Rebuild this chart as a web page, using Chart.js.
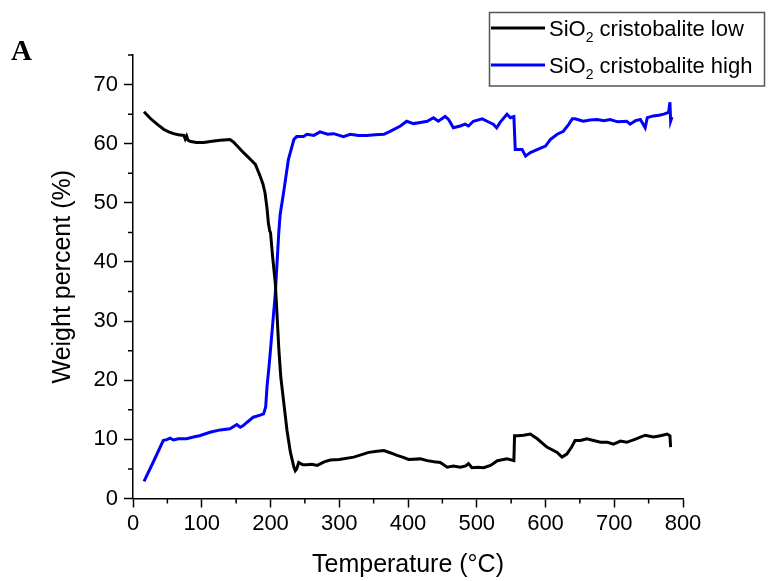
<!DOCTYPE html>
<html>
<head>
<meta charset="utf-8">
<script src="https://cdn.jsdelivr.net/npm/chart.js@4.4.1/dist/chart.umd.min.js"></script>
<style>
  html, body { margin: 0; padding: 0; background: #fff; }
  #wrap { width: 768px; height: 581px; position: relative; }
</style>
</head>
<body>
<div id="wrap"><canvas id="chart" width="768" height="581"></canvas></div>
<script>
// SiO2 cristobalite low (black)
const lowTemps = [16, 25, 35, 45, 52, 59, 66, 74, 76, 78, 80, 83, 92, 103, 115, 127, 141, 146, 151, 158,
  166, 172, 178, 185, 189, 192, 195, 197, 199, 200, 203, 207, 210, 212, 215, 219, 224, 229, 234, 236,
  238, 241, 247, 253, 260, 268, 278, 287, 300, 321, 343, 355, 365, 375, 384, 392, 401, 418, 428, 438,
  447, 457, 466, 476, 484, 488, 493, 502, 510, 520, 530, 544, 554, 555, 560, 568, 578, 588, 602, 617,
  624, 631, 638, 643, 651, 660, 670, 680, 690, 699, 709, 718, 730, 745, 757, 767, 777, 781, 782];
const lowValues = [65.4, 64.3, 63.3, 62.4, 62.0, 61.7, 61.5, 61.4, 60.8, 61.3, 60.6, 60.4, 60.2, 60.2, 60.4, 60.6, 60.7, 60.3, 59.7, 58.8,
  57.9, 57.2, 56.5, 54.5, 53.2, 51.7, 49.0, 46.5, 45.2, 45.0, 41.0, 36.4, 30.0, 25.5, 20.5, 16.5, 11.5, 7.8, 5.3, 4.7,
  5.0, 6.1, 5.7, 5.7, 5.8, 5.6, 6.2, 6.5, 6.6, 7.0, 7.8, 8.0, 8.1, 7.7, 7.3, 7.0, 6.6, 6.7, 6.4, 6.2,
  6.1, 5.3, 5.5, 5.3, 5.5, 5.9, 5.2, 5.3, 5.2, 5.6, 6.4, 6.7, 6.4, 10.6, 10.6, 10.7, 10.9, 10.1, 8.7, 7.8,
  7.0, 7.5, 8.7, 9.8, 9.8, 10.1, 9.8, 9.5, 9.5, 9.2, 9.7, 9.5, 10.0, 10.7, 10.4, 10.6, 10.9, 10.6, 8.7];

// SiO2 cristobalite high (blue)
const highTemps = [16, 30, 44, 50, 54, 59, 66, 78, 88, 98, 112, 127, 141, 151, 156, 160, 166, 175, 185, 190,
  193, 195, 198, 202, 207, 212, 214, 219, 226, 234, 238, 248, 253, 263, 272, 283, 292, 306, 316, 328,
  340, 352, 365, 374, 389, 398, 408, 418, 428, 437, 444, 454, 459, 466, 476, 483, 488, 495, 508, 515,
  524, 529, 534, 544, 549, 554, 556, 566, 571, 578, 592, 600, 607, 617, 626, 634, 639, 643, 655, 665,
  675, 685, 694, 705, 718, 723, 731, 738, 745, 748, 757, 765, 772, 779, 781, 782, 784];
const highValues = [2.9, 6.3, 9.8, 10.0, 10.2, 9.9, 10.1, 10.1, 10.4, 10.65, 11.2, 11.6, 11.8, 12.5, 12.05, 12.3, 12.9, 13.75, 14.1, 14.3,
  15.5, 19.0, 22.5, 27.9, 34.7, 44.9, 48.0, 51.7, 57.3, 60.7, 61.2, 61.2, 61.6, 61.4, 62.0, 61.6, 61.7, 61.2, 61.6, 61.4,
  61.4, 61.5, 61.6, 62.1, 63.0, 63.8, 63.4, 63.6, 63.8, 64.4, 63.8, 64.6, 64.1, 62.7, 63.0, 63.3, 63.0, 63.8, 64.2, 63.8,
  63.3, 62.7, 63.6, 65.0, 64.4, 64.6, 59.0, 59.0, 57.9, 58.5, 59.2, 59.6, 60.7, 61.6, 62.1, 63.3, 64.2, 64.2, 63.8, 64.0,
  64.1, 63.9, 64.1, 63.7, 63.8, 63.3, 63.9, 64.1, 62.7, 64.4, 64.7, 64.8, 65.0, 65.3, 67.0, 63.8, 64.5];

const seriesLabels = ['cristobalite low', 'cristobalite high'];
const seriesColors = ['#000000', '#0000ff'];
const xTicks = [0, 100, 200, 300, 400, 500, 600, 700, 800];
const yTicks = [0, 10, 20, 30, 40, 50, 60, 70];

const FONT = "'Liberation Sans', Arial, sans-serif";

function toPoints(xs, ys) {
    return xs.map((x, i) => ({ x: x, y: ys[i] }));
}

// minor ticks, legend box and the panel letter
const extras = {
    id: 'extras',
    afterDraw(chart) {
        const ctx = chart.ctx;
        const xs = chart.scales.x;
        const ys = chart.scales.y;
        const area = chart.chartArea;
        ctx.save();
        ctx.strokeStyle = '#000';
        ctx.lineWidth = 1.5;
        ctx.beginPath();
        for (let v = 50; v < 800; v += 100) {
            const px = xs.getPixelForValue(v);
            ctx.moveTo(px, area.bottom);
            ctx.lineTo(px, area.bottom + 5);
        }
        for (let v = 5; v <= 75; v += 10) {
            const py = ys.getPixelForValue(v);
            ctx.moveTo(area.left, py);
            ctx.lineTo(area.left - 5, py);
        }
        ctx.stroke();

        // legend
        const bx = 489.5, by = 12.5, bw = 275, bh = 73.5;
        ctx.fillStyle = '#fff';
        ctx.fillRect(bx, by, bw, bh);
        ctx.strokeStyle = '#555';
        ctx.lineWidth = 1.5;
        ctx.strokeRect(bx, by, bw, bh);
        const rows = [28, 65];
        chart.data.datasets.forEach((ds, i) => {
            const y = rows[i];
            ctx.strokeStyle = ds.borderColor;
            ctx.lineWidth = 3;
            ctx.beginPath();
            ctx.moveTo(491, y);
            ctx.lineTo(545, y);
            ctx.stroke();
            ctx.fillStyle = '#000';
            ctx.textBaseline = 'alphabetic';
            ctx.font = '22px ' + FONT;
            let x = 549;
            const base = y + 8;
            ctx.fillText('SiO', x, base);
            x += ctx.measureText('SiO').width;
            ctx.font = '14px ' + FONT;
            ctx.fillText('2', x, base + 6);
            x += ctx.measureText('2').width;
            ctx.font = '22px ' + FONT;
            ctx.fillText(' ' + seriesLabels[i], x, base);
        });

        ctx.fillStyle = '#000';
        ctx.font = "bold 29px 'Liberation Serif', 'Times New Roman', serif";
        ctx.fillText('A', 11, 60);
        ctx.restore();
    }
};

new Chart(document.getElementById('chart'), {
    type: 'line',
    data: {
        datasets: [{
            label: 'SiO₂ ' + seriesLabels[0],
            data: toPoints(lowTemps, lowValues),
            borderColor: seriesColors[0],
            borderWidth: 3,
            pointRadius: 0,
            tension: 0,
            fill: false
        }, {
            label: 'SiO₂ ' + seriesLabels[1],
            data: toPoints(highTemps, highValues),
            borderColor: seriesColors[1],
            borderWidth: 3,
            pointRadius: 0,
            tension: 0,
            fill: false
        }]
    },
    options: {
        responsive: false,
        animation: false,
        layout: { padding: { left: 0, top: 55, right: 85, bottom: 0 } },
        plugins: {
            legend: { display: false },
            tooltip: { enabled: false }
        },
        scales: {
            x: {
                type: 'linear',
                min: 0,
                max: 800,
                afterFit: scale => { scale.height = 82.5; },
                afterBuildTicks: scale => { scale.ticks = xTicks.map(v => ({ value: v })); },
                grid: { drawOnChartArea: false, tickLength: 9, tickColor: '#000', tickWidth: 1.5 },
                border: { color: '#000', width: 1.5 },
                ticks: { color: '#000', font: { size: 22, family: FONT }, padding: 3, maxRotation: 0 },
                title: { display: true, text: 'Temperature (°C)', color: '#000',
                    font: { size: 25, family: FONT }, padding: { top: 0, bottom: 1 } }
            },
            y: {
                min: 0,
                max: 75,
                afterFit: scale => { scale.width = 133; },
                afterBuildTicks: scale => { scale.ticks = yTicks.map(v => ({ value: v })); },
                grid: { drawOnChartArea: false, tickLength: 9, tickColor: '#000', tickWidth: 1.5 },
                border: { color: '#000', width: 1.5 },
                ticks: { color: '#000', font: { size: 22, family: FONT }, padding: 6 },
                title: { display: true, text: 'Weight percent (%)', color: '#000',
                    font: { size: 25, family: FONT }, padding: { top: 48, bottom: 0 } }
            }
        }
    },
    plugins: [extras]
});
</script>
</body>
</html>
